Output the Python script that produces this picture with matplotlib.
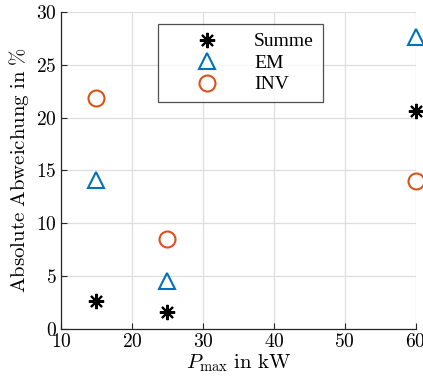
import matplotlib
matplotlib.use("Agg")
import matplotlib.pyplot as plt

plt.rcParams['mathtext.fontset'] = 'cm'
plt.rcParams['font.family'] = ['Liberation Serif', 'DejaVu Serif']

x_vals = [15, 25, 60]
summe = [2.6, 1.6, 20.6]
em = [14.1, 4.5, 27.6]
inv = [21.9, 8.5, 14.0]
xticks = [10, 20, 30, 40, 50, 60]
yticks = [0, 5, 10, 15, 20, 25, 30]

fig = plt.figure(figsize=(4.23, 3.78), dpi=100)
ax = fig.add_axes([0.144, 0.130, 0.839, 0.838])

ax.plot(x_vals, summe, linestyle='none', marker=(8, 2, 0), markersize=11,
        color='black', markeredgewidth=1.5, clip_on=False, label='Summe')
ax.plot(x_vals, em, linestyle='none', marker='^', markersize=12,
        markerfacecolor='none', markeredgecolor='#0072BD', markeredgewidth=1.5,
        clip_on=False, label='EM')
ax.plot(x_vals, inv, linestyle='none', marker='o', markersize=11.5,
        markerfacecolor='none', markeredgecolor='#D95319', markeredgewidth=1.5,
        clip_on=False, label='INV')

ax.set_xlim(10, 60)
ax.set_ylim(0, 30)
ax.set_xticks(xticks)
ax.set_yticks(yticks)
ax.set_xticklabels([r'$%d$' % v for v in xticks], fontsize=14)
ax.set_yticklabels([r'$%d$' % v for v in yticks], fontsize=14)
ax.tick_params(direction='in', length=4, width=0.8, color='#262626', pad=3)
ax.grid(True, color='#dedede', linewidth=0.9)
ax.set_axisbelow(True)
for s in ['top', 'right']:
    ax.spines[s].set_visible(False)
for s in ['left', 'bottom']:
    ax.spines[s].set_color('#262626')
    ax.spines[s].set_linewidth(0.9)

ax.set_xlabel(r'$P_{\mathrm{max}}\ \mathrm{in\ kW}$', fontsize=15, labelpad=1)
ax.set_ylabel(r'$\mathrm{Absolute\ Abweichung\ in\ \%}$', fontsize=15, labelpad=4)

leg = ax.legend(loc='upper left', bbox_to_anchor=(0.273, 0.962), fontsize=14,
                frameon=True, fancybox=False, edgecolor='#262626',
                borderpad=0.45, handlelength=4.2, handletextpad=0.3,
                labelspacing=0.2, borderaxespad=0)
leg.get_frame().set_linewidth(0.9)

fig.savefig('out.png', dpi=100)
